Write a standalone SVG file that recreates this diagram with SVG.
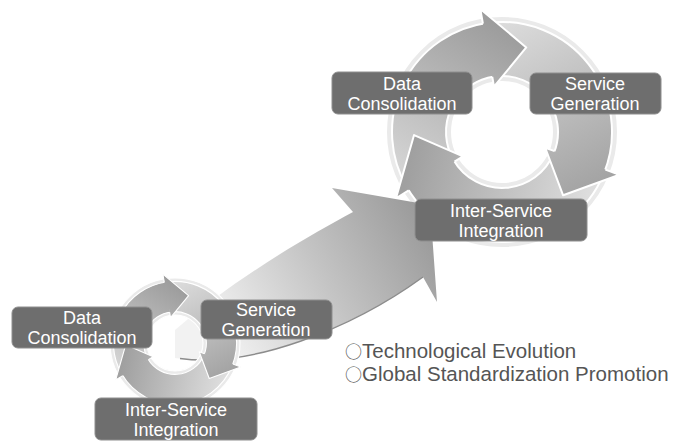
<svg xmlns="http://www.w3.org/2000/svg" width="678" height="441" viewBox="0 0 678 441">
  <style>
    .ring { fill: #eaeaea; stroke: #ffffff; stroke-width: 2; }
    .seg { stroke: #ffffff; stroke-width: 2; stroke-linejoin: round; }
    .box { fill: #6e6e6e; stroke: #8e8e8e; stroke-width: 1; }
    .lbl { font-family: "Liberation Sans", Arial, sans-serif; font-size: 18px; fill: #ffffff; text-anchor: middle; }
    .note { font-family: "Liberation Sans", Arial, sans-serif; font-size: 20.5px; fill: #555555; }
    .mark { font-family: "Noto Sans CJK JP", "DejaVu Sans", sans-serif; font-size: 17px; }
  </style>
  <defs>
    <linearGradient id="gA1" gradientUnits="userSpaceOnUse" x1="-90" y1="60" x2="10" y2="-100">
      <stop offset="0" stop-color="#d8d8d8"/>
      <stop offset="1" stop-color="#9c9c9c"/>
    </linearGradient>
    <linearGradient id="gA2" gradientUnits="userSpaceOnUse" x1="0" y1="-110" x2="90" y2="60">
      <stop offset="0" stop-color="#dcdcdc"/>
      <stop offset="1" stop-color="#a2a2a2"/>
    </linearGradient>
    <linearGradient id="gA3" gradientUnits="userSpaceOnUse" x1="90" y1="60" x2="-90" y2="20">
      <stop offset="0" stop-color="#dedede"/>
      <stop offset="1" stop-color="#a0a0a0"/>
    </linearGradient>
    <linearGradient id="gBig" gradientUnits="userSpaceOnUse" x1="220" y1="340" x2="430" y2="220">
      <stop offset="0" stop-color="#f2f2f2"/>
      <stop offset="0.5" stop-color="#c4c4c4"/>
      <stop offset="1" stop-color="#999999"/>
    </linearGradient>

    <!-- three-arrow cycle, drawn around the origin -->
    <g id="cycle">
      <path class="ring" fill-rule="evenodd" d="M 116,0 A116,116 0 1 1 -116,0 A116,116 0 1 1 116,0 Z M 50,0 A50,50 0 1 0 -50,0 A50,50 0 1 0 50,0 Z"/>
      <!-- bodies -->
      <path class="seg" fill="url(#gA1)" d="M -95.26,55 A110,110 0 0 1 -15.31,-108.93 L -7.80,-55.46 A56,56 0 0 0 -48.50,28 Z"/>
      <path class="seg" fill="url(#gA2)" d="M -15.31,-108.93 A110,110 0 0 1 101.99,41.21 L 51.92,20.98 A56,56 0 0 0 -7.80,-55.46 Z"/>
      <path class="seg" fill="url(#gA3)" d="M 101.99,41.21 A110,110 0 0 1 -95.26,55 L -48.50,28 A56,56 0 0 0 51.92,20.98 Z"/>
      <!-- heads -->
      <path class="seg" fill="url(#gA1)" d="M -19.10,-108.33 L -21.71,-123.10 L 24.26,-84.59 L -7.99,-45.30 L -9.72,-55.15"/>
      <path class="seg" fill="url(#gA2)" d="M 103.37,37.62 L 117.46,42.75 L 61.13,63.30 L 43.23,15.73 L 52.62,19.15"/>
      <path class="seg" fill="url(#gA3)" d="M -93.29,58.29 L -106.01,66.24 L -87.95,3.07 L -39.01,24.38 L -47.49,29.68"/>
    </g>
  </defs>

  <!-- large cycle -->
  <g id="cycle-large">
    <use href="#cycle" transform="translate(502,132)"/>
  </g>

  <!-- connector: sweeping arrow from the small cycle to the large one -->
  <g id="connectors">
    <path fill="url(#gBig)" d="M 175,358 C 250,368 350,330 423,277 L 437,302 L 430,205 L 332,188 L 353,212 C 310,235 240,275 175,330 Z"/>
    <path fill="none" stroke="#8c8c8c" stroke-width="1.5" d="M 180,358.5 C 250,368 350,330 423,277"/>
  </g>

  <!-- small cycle -->
  <g id="cycle-small">
    <use href="#cycle" transform="translate(175,343) scale(0.56)"/>
  </g>

  <!-- large cycle labels -->
  <g id="big-data">
    <rect class="box" x="332" y="72" width="140" height="42" rx="6"/>
    <text class="lbl"><tspan x="402" y="90">Data</tspan><tspan x="402" y="110.3">Consolidation</tspan></text>
  </g>
  <g id="big-service">
    <rect class="box" x="530" y="73" width="131" height="41" rx="6"/>
    <text class="lbl"><tspan x="595" y="90">Service</tspan><tspan x="595" y="110.3">Generation</tspan></text>
  </g>
  <g id="big-integration">
    <rect class="box" x="415" y="199" width="172" height="42" rx="6"/>
    <text class="lbl"><tspan x="501" y="216.5">Inter-Service</tspan><tspan x="501" y="236.8">Integration</tspan></text>
  </g>

  <!-- small cycle labels -->
  <g id="small-data">
    <rect class="box" x="12" y="307" width="140" height="41" rx="6"/>
    <text class="lbl"><tspan x="82" y="324">Data</tspan><tspan x="82" y="344.3">Consolidation</tspan></text>
  </g>
  <g id="small-service">
    <rect class="box" x="201" y="300" width="131" height="39" rx="6"/>
    <text class="lbl"><tspan x="266" y="315.5">Service</tspan><tspan x="266" y="335.8">Generation</tspan></text>
  </g>
  <g id="small-integration">
    <rect class="box" x="95" y="398" width="162" height="42" rx="6"/>
    <text class="lbl"><tspan x="176" y="416">Inter-Service</tspan><tspan x="176" y="436.3">Integration</tspan></text>
  </g>

  <!-- notes -->
  <g id="notes">
    <text class="note" x="345" y="358"><tspan class="mark">○</tspan>Technological Evolution</text>
    <text class="note" x="345" y="381"><tspan class="mark">○</tspan>Global Standardization Promotion</text>
  </g>
</svg>
